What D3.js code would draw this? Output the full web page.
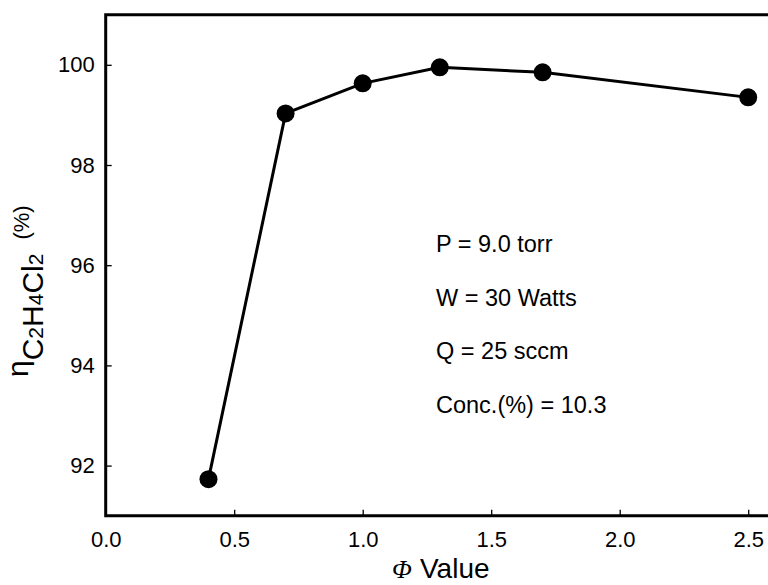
<!DOCTYPE html>
<html>
<head>
<meta charset="utf-8">
<script src="https://cdn.jsdelivr.net/npm/d3@7"></script>
<style>
  body { margin: 0; background: #fff; }
  text { font-family: "Liberation Sans", Arial, Helvetica, sans-serif; fill: #000; }
</style>
</head>
<body>
<script>
// Data

const phiValues = [0.4, 0.7, 1.0, 1.3, 1.7, 2.5];
const efficiency = [91.73, 99.03, 99.63, 99.95, 99.85, 99.35];
const xTicks = [0.0, 0.5, 1.0, 1.5, 2.0, 2.5];
const yTicks = [92, 94, 96, 98, 100];
const notes = ["P = 9.0 torr", "W = 30 Watts", "Q = 25 sccm", "Conc.(%) = 10.3"];

// Dimensions

const width = 768;
const height = 585;
const plotLeft = 105.7, plotTop = 14.7, plotBottom = 515.7;

const svg = d3.select("body")
  .append("svg")
  .attr("width", width)
  .attr("height", height);

const x = d3.scaleLinear().domain([0, 2.6]).range([plotLeft, plotLeft + 2.6 * 257]);
const y = d3.scaleLinear().domain([91, 101]).range([plotBottom, plotTop]);

// axes (ticks point inward)

const xAxis = svg.append("g")
  .attr("transform", "translate(0," + plotBottom + ")")
  .call(d3.axisBottom(x).tickValues(xTicks).tickFormat(d3.format(".1f"))
    .tickSizeInner(-6).tickSizeOuter(0).tickPadding(16));

const yAxis = svg.append("g")
  .attr("transform", "translate(" + plotLeft + ",0)")
  .call(d3.axisLeft(y).tickValues(yTicks).tickFormat(d3.format("d"))
    .tickSizeInner(-6).tickSizeOuter(0).tickPadding(11));

[xAxis, yAxis].forEach(g => {
  g.select(".domain").remove();
  g.selectAll(".tick line").attr("stroke", "#000").attr("stroke-width", 1.3);
  g.selectAll(".tick text")
    .style("font-size", "22px")
    .style("font-family", "'Liberation Sans', Arial, sans-serif")
    .attr("fill", "#000");
});

// frame: left, top, bottom (right side runs off the page)

svg.append("path")
  .attr("d", "M" + (width + 10) + "," + plotTop + "H" + plotLeft + "V" + plotBottom + "H" + (width + 10))
  .attr("fill", "none")
  .attr("stroke", "#000")
  .attr("stroke-width", 3);

// line + markers

const pts = phiValues.map((v, i) => ({ x: v, y: efficiency[i] }));

svg.append("path")
  .datum(pts)
  .attr("fill", "none")
  .attr("stroke", "#000")
  .attr("stroke-width", 3)
  .attr("d", d3.line().x(d => x(d.x)).y(d => y(d.y)));

svg.selectAll("circle.pt")
  .data(pts)
  .enter()
  .append("circle")
  .attr("class", "pt")
  .attr("cx", d => x(d.x))
  .attr("cy", d => y(d.y))
  .attr("r", 9)
  .attr("fill", "#000");

// condition notes

svg.selectAll("text.note")
  .data(notes)
  .enter()
  .append("text")
  .attr("class", "note")
  .attr("x", 436)
  .attr("y", (d, i) => 251.7 + i * 53.8)
  .style("font-size", "23.5px")
  .text(d => d);

// x axis title

const xt = svg.append("text")
  .attr("x", 392)
  .attr("y", 578);
xt.append("tspan")
  .style("font-family", "'Liberation Serif', 'Times New Roman', serif")
  .style("font-style", "italic")
  .style("font-size", "26px")
  .text("Φ");
xt.append("tspan")
  .attr("x", 420)
  .style("font-size", "28px")
  .text("Value");

// y axis title: eta with C2H4Cl2 subscript

const yt = svg.append("text")
  .attr("transform", "translate(28,377) rotate(-90)");
yt.append("tspan").style("font-size", "30px").text("η");
const sub = [["C", 30], ["2", 21], ["H", 30], ["4", 21], ["Cl", 30], ["2", 21]];
sub.forEach((s, i) => {
  yt.append("tspan")
    .attr("dy", i === 0 ? 15 : null)
    .style("font-size", s[1] + "px")
    .text(s[0]);
});
yt.append("tspan")
  .attr("dy", -14)
  .attr("dx", 14)
  .style("font-size", "22px")
  .text("(%)");
</script>
</body>
</html>
